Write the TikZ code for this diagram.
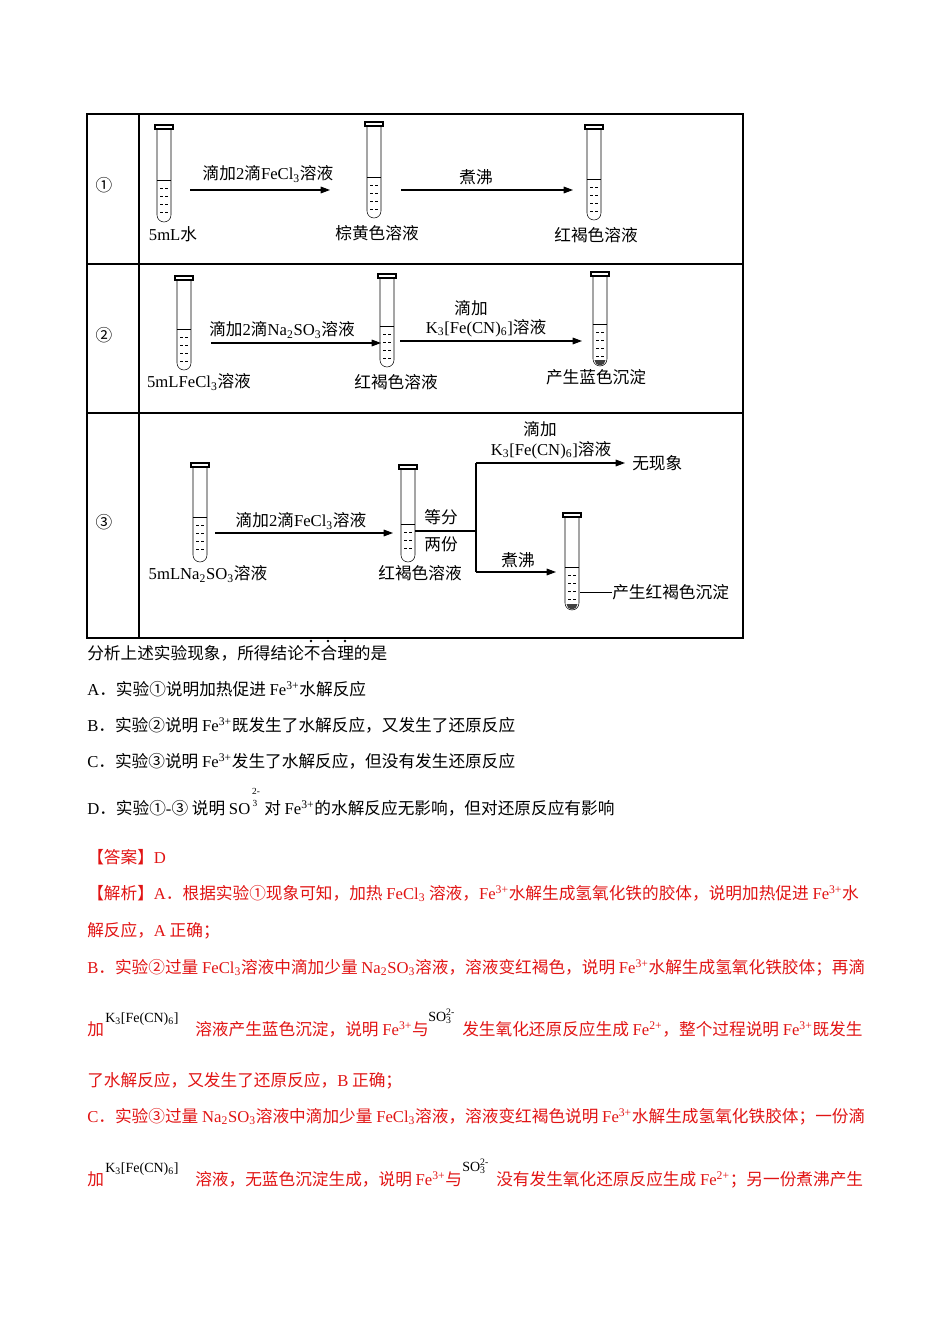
\documentclass[tikz,border=0pt]{standalone}
\usepackage{fontspec}
\setmainfont{Noto Sans CJK SC}
\newfontfamily\latf{Liberation Serif}
\newcommand\lat[1]{{\latf #1}}
\newcommand\sbs[1]{{\latf\textsubscript{#1}}}
\newcommand\sps[1]{{\latf\textsuperscript{#1}}}
\newcommand\fe{\lat{Fe}\sps{3+}}
\definecolor{ansred}{RGB}{225,20,20}
\usetikzlibrary{patterns,arrows.meta}
\newcommand\ttube[5]{% x, top, bottom, liquid, precip(0/1)
  \draw[thick] (#1-9,#2) rectangle (#1+9,#2+4);
  \draw (#1-7,#2+4) -- (#1-7,#3-7) arc[start angle=180,end angle=0,radius=7] -- (#1+7,#2+4);
  \draw (#1-7,#4) -- (#1+7,#4);
  \pgfmathtruncatemacro\nlines{(#3-#4-8)/8}
  \foreach \k in {1,...,\nlines} {\pgfmathsetmacro\yy{#4+8*\k}\draw (#1-4,\yy) -- (#1-1,\yy) (#1+1,\yy) -- (#1+4,\yy);}
  \ifnum#5=1 \fill[black!75] (#1-5.5,#3-6) arc[start angle=180,end angle=0,radius=5.5] -- cycle;\fi
}
\begin{document}
\begin{tikzpicture}[x=0.75pt,y=-0.75pt,font=\fontsize{12.5}{14}\selectfont,
  arr/.style={-{Triangle[length=7pt,width=5pt]},line width=0.8pt},
  lbl/.style={inner sep=0pt},
  txt/.style={anchor=base west,inner sep=0pt},
  sm/.style={txt,font=\fontsize{10.5}{12}\selectfont},
  red/.style={txt,text=ansred}]
\useasboundingbox (0,0) rectangle (950,1344);
\draw[line width=0.8pt] (87,114) rectangle (743,638);
\draw[line width=0.8pt] (139,114) -- (139,638) (87,264) -- (743,264) (87,413) -- (743,413);
\node[lbl] (n1) at (104,185) {①};
\node[lbl] (n2) at (104,335) {②};
\node[lbl] (n3) at (104,522) {③};
% row 1
\ttube{164}{125}{222}{180}{0}
\ttube{374}{122}{218}{177}{0}
\ttube{594}{125}{220}{179}{0}
\coordinate (a1s) at (190,190); \coordinate (a1e) at (330,190);
\coordinate (a2s) at (401,190); \coordinate (a2e) at (573,190);
\draw[arr] (a1s) -- (a1e); \draw[arr] (a2s) -- (a2e);
\node[lbl] (l1) at (268,174) {滴加\lat{2}滴\lat{FeCl}\sbs{3}溶液};
\node[lbl] (l2) at (476,177) {煮沸};
\node[lbl] (t11) at (173,234) {\lat{5mL}水};
\node[lbl] (t12) at (377,233) {棕黄色溶液};
\node[lbl] (t13) at (596,235) {红褐色溶液};
% row 2
\ttube{184}{276}{370}{329}{0}
\ttube{387}{274}{367}{326}{0}
\ttube{600}{272}{366}{324}{1}
\coordinate (b1s) at (211,343); \coordinate (b1e) at (381,343);
\coordinate (b2s) at (400,341); \coordinate (b2e) at (582,341);
\draw[arr] (b1s) -- (b1e); \draw[arr] (b2s) -- (b2e);
\node[lbl] (l3) at (282,330) {滴加\lat{2}滴\lat{Na}\sbs{2}\lat{SO}\sbs{3}溶液};
\node[lbl] (l4) at (471,308) {滴加};
\node[lbl] (l5) at (486,328) {\lat{K}\sbs{3}\lat{[Fe(CN)}\sbs{6}\lat{]}溶液};
\node[lbl] (t21) at (199,382) {\lat{5mLFeCl}\sbs{3}溶液};
\node[lbl] (t22) at (396,382) {红褐色溶液};
\node[lbl] (t23) at (596,377) {产生蓝色沉淀};
% row 3
\ttube{200}{463}{562}{517}{0}
\ttube{408}{465}{562}{524}{0}
\ttube{572}{513}{610}{567}{1}
\coordinate (c1s) at (215,533); \coordinate (c1e) at (393,533);
\draw[arr] (c1s) -- (c1e);
\coordinate (sp) at (415,531); \coordinate (br) at (476,531);
\coordinate (bt) at (476,463); \coordinate (bb) at (476,572);
\coordinate (ct) at (625,463); \coordinate (cb) at (556,572);
\draw[line width=0.8pt] (sp) -- (br) (bt) -- (bb);
\draw[arr] (bt) -- (ct); \draw[arr] (bb) -- (cb);
\node[lbl] (l6) at (301,521) {滴加\lat{2}滴\lat{FeCl}\sbs{3}溶液};
\node[lbl] (l7) at (441,517) {等分};
\node[lbl] (l8) at (441,544) {两份};
\node[lbl] (l9) at (540,429) {滴加};
\node[lbl] (l10) at (551,450) {\lat{K}\sbs{3}\lat{[Fe(CN)}\sbs{6}\lat{]}溶液};
\node[lbl,anchor=west] (l11) at (632,463) {无现象};
\node[lbl] (l12) at (518,560) {煮沸};
\node[lbl,anchor=west] (l13) at (612,592) {产生红褐色沉淀};
\coordinate (lead) at (580,592);
\draw (lead) -- (l13.west);
\node[lbl] (t31) at (208,574) {\lat{5mLNa}\sbs{2}\lat{SO}\sbs{3}溶液};
\node[lbl] (t32) at (420,573) {红褐色溶液};
% question
\node[txt] (q0) at (87,659) {分析上述实验现象，所得结论不合理的是};
\foreach \dx in {311,328,345} \fill (\dx,641) circle (1.3);
\node[txt] (qa) at (87,695) {\lat{A}．实验①说明加热促进 \fe 水解反应};
\node[txt] (qb) at (87,731) {\lat{B}．实验②说明 \fe 既发生了水解反应，又发生了还原反应};
\node[txt] (qc) at (87,767) {\lat{C}．实验③说明 \fe 发生了水解反应，但没有发生还原反应};
\node[txt] (qd) at (87,814) {\lat{D}．实验①\lat{-}③ 说明 \lat{SO}};
\node[lbl,font=\fontsize{7}{8}\selectfont\latf] (qd2) at (256,791) {2-};
\node[lbl,font=\fontsize{7}{8}\selectfont\latf] (qd3) at (255,803) {3};
\node[txt] (qd4) at (264,814) {对 \fe 的水解反应无影响，但对还原反应有影响};
% answer
\node[red] (r0) at (87,863) {【答案】\lat{D}};
\node[red] (r1) at (87,899) {【解析】\lat{A}．根据实验①现象可知，加热 \lat{FeCl}\sbs{3} 溶液，\fe 水解生成氢氧化铁的胶体，说明加热促进 \fe 水};
\node[red] (r2) at (87,936) {解反应，\lat{A} 正确；};
\node[red] (r3) at (87,973) {\lat{B}．实验②过量 \lat{FeCl}\sbs{3}溶液中滴加少量 \lat{Na}\sbs{2}\lat{SO}\sbs{3}溶液，溶液变红褐色，说明 \fe 水解生成氢氧化铁胶体；再滴};
\node[red] (r4) at (87,1035) {加};
\node[sm] (r4k) at (105,1022) {\lat{K}\sbs{3}\lat{[Fe(CN)}\sbs{6}\lat{]}};
\node[red] (r4b) at (195,1035) {溶液产生蓝色沉淀，说明 \fe 与};
\node[sm] (r4s) at (428,1021) {\lat{SO}\lat{\textsubscript{3}\kern-0.4em\textsuperscript{2-}}};
\node[red] (r4c) at (462,1035) {发生氧化还原反应生成 \lat{Fe}\sps{2+}，整个过程说明 \fe 既发生};
\node[red] (r5) at (87,1086) {了水解反应，又发生了还原反应，\lat{B} 正确；};
\node[red] (r6) at (87,1122) {\lat{C}．实验③过量 \lat{Na}\sbs{2}\lat{SO}\sbs{3}溶液中滴加少量 \lat{FeCl}\sbs{3}溶液，溶液变红褐色说明 \fe 水解生成氢氧化铁胶体；一份滴};
\node[red] (r7) at (87,1185) {加};
\node[sm] (r7k) at (105,1172) {\lat{K}\sbs{3}\lat{[Fe(CN)}\sbs{6}\lat{]}};
\node[red] (r7b) at (195,1185) {溶液，无蓝色沉淀生成，说明 \fe 与};
\node[sm] (r7s) at (462,1171) {\lat{SO}\lat{\textsubscript{3}\kern-0.4em\textsuperscript{2-}}};
\node[red] (r7c) at (496,1185) {没有发生氧化还原反应生成 \lat{Fe}\sps{2+}；另一份煮沸产生};
\end{tikzpicture}
\end{document}
